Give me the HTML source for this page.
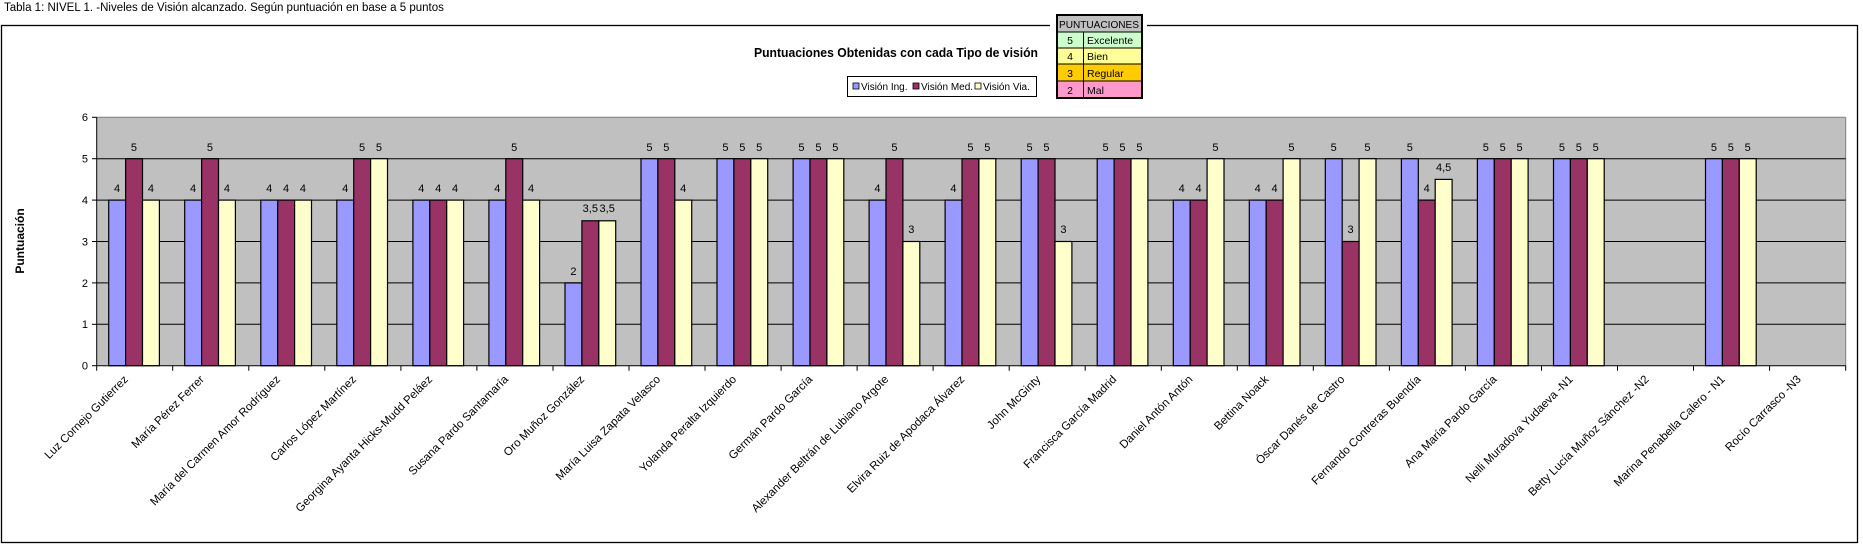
<!DOCTYPE html>
<html><head><meta charset="utf-8"><style>
html,body{margin:0;padding:0;background:#fff;}
svg{display:block;font-family:"Liberation Sans",sans-serif;}
</style></head><body>
<svg width="1863" height="546" viewBox="0 0 1863 546" xmlns="http://www.w3.org/2000/svg">
<text x="4" y="11" font-size="11.5" fill="#000">Tabla 1: NIVEL 1. -Niveles de Visión alcanzado. Según puntuación en base a 5 puntos</text>
<rect x="1.5" y="25.5" width="1856" height="517" fill="#fff" stroke="#000" stroke-width="1.3"/>
<text x="754" y="57" font-size="13" font-weight="bold" textLength="284" lengthAdjust="spacingAndGlyphs">Puntuaciones Obtenidas con cada Tipo de visión</text>
<!-- legend -->
<rect x="847.5" y="76.5" width="189" height="20" fill="#fff" stroke="#000"/>
<rect x="853" y="83" width="6" height="6" fill="#9999ff" stroke="#000" stroke-width="0.8"/>
<text x="861" y="90" font-size="10">Visión Ing.</text>
<rect x="913" y="83" width="6" height="6" fill="#993366" stroke="#000" stroke-width="0.8"/>
<text x="921" y="90" font-size="10">Visión Med.</text>
<rect x="975" y="83" width="6" height="6" fill="#ffffcc" stroke="#000" stroke-width="0.8"/>
<text x="983" y="90" font-size="10">Visión Via.</text>
<!-- puntuaciones table -->
<rect x="1050" y="14" width="97" height="88" fill="#fff"/>
<rect x="1057" y="15" width="85" height="17" fill="#c0c0c0"/>
<rect x="1057" y="32" width="85" height="16" fill="#ccffcc"/>
<rect x="1057" y="48" width="85" height="16" fill="#ffff99"/>
<rect x="1057" y="64" width="85" height="17" fill="#ffcc00"/>
<rect x="1057" y="81" width="85" height="17" fill="#ff99cc"/>
<g stroke="#000" stroke-width="1">
<line x1="1057" y1="32" x2="1142" y2="32"/><line x1="1057" y1="48" x2="1142" y2="48"/>
<line x1="1057" y1="64" x2="1142" y2="64"/><line x1="1057" y1="81" x2="1142" y2="81"/>
<line x1="1083.5" y1="32" x2="1083.5" y2="98"/>
</g>
<rect x="1057" y="15" width="85" height="83" fill="none" stroke="#000" stroke-width="2"/>
<g font-size="10.5">
<text x="1059" y="28" textLength="80" lengthAdjust="spacingAndGlyphs">PUNTUACIONES</text>
<text x="1070" y="44" text-anchor="middle">5</text><text x="1087" y="44">Excelente</text>
<text x="1070" y="60" text-anchor="middle">4</text><text x="1087" y="60">Bien</text>
<text x="1070" y="77" text-anchor="middle">3</text><text x="1087" y="77">Regular</text>
<text x="1070" y="94" text-anchor="middle">2</text><text x="1087" y="94">Mal</text>
</g>
<!-- plot -->
<rect x="96.7" y="117.3" width="1749" height="248.4" fill="#c0c0c0"/>
<line x1="96.7" y1="117.3" x2="1845.7" y2="117.3" stroke="#808080"/>
<line x1="1845.7" y1="117.3" x2="1845.7" y2="365.7" stroke="#808080"/>
<g stroke="#000" stroke-width="1">
<line x1="96.7" y1="158.7" x2="1845.7" y2="158.7"/>
<line x1="96.7" y1="200.1" x2="1845.7" y2="200.1"/>
<line x1="96.7" y1="241.5" x2="1845.7" y2="241.5"/>
<line x1="96.7" y1="282.9" x2="1845.7" y2="282.9"/>
<line x1="96.7" y1="324.3" x2="1845.7" y2="324.3"/>
</g>
<g font-size="11" text-anchor="end">
<text x="88" y="121">6</text><text x="88" y="162.5">5</text><text x="88" y="204">4</text>
<text x="88" y="245.5">3</text><text x="88" y="287">2</text><text x="88" y="328">1</text><text x="88" y="369.5">0</text>
</g>
<text transform="translate(24,241) rotate(-90)" font-size="12" font-weight="bold" text-anchor="middle">Puntuación</text>

<g stroke="#000" stroke-width="1.2" font-size="11" text-anchor="middle">
<g transform="translate(96.7,0)"><rect x="12" y="200.1" width="16.9" height="165.6" fill="#9999ff"/><rect x="28.9" y="158.7" width="16.9" height="207" fill="#993366"/><rect x="45.8" y="200.1" width="16.9" height="165.6" fill="#ffffcc"/><g stroke="none"><text x="20.4" y="192">4</text><text x="37.3" y="151">5</text><text x="54.2" y="192">4</text></g></g>
<g transform="translate(172.7,0)"><rect x="12" y="200.1" width="16.9" height="165.6" fill="#9999ff"/><rect x="28.9" y="158.7" width="16.9" height="207" fill="#993366"/><rect x="45.8" y="200.1" width="16.9" height="165.6" fill="#ffffcc"/><g stroke="none"><text x="20.4" y="192">4</text><text x="37.3" y="151">5</text><text x="54.2" y="192">4</text></g></g>
<g transform="translate(248.8,0)"><rect x="12" y="200.1" width="16.9" height="165.6" fill="#9999ff"/><rect x="28.9" y="200.1" width="16.9" height="165.6" fill="#993366"/><rect x="45.8" y="200.1" width="16.9" height="165.6" fill="#ffffcc"/><g stroke="none"><text x="20.4" y="192">4</text><text x="37.3" y="192">4</text><text x="54.2" y="192">4</text></g></g>
<g transform="translate(324.8,0)"><rect x="12" y="200.1" width="16.9" height="165.6" fill="#9999ff"/><rect x="28.9" y="158.7" width="16.9" height="207" fill="#993366"/><rect x="45.8" y="158.7" width="16.9" height="207" fill="#ffffcc"/><g stroke="none"><text x="20.4" y="192">4</text><text x="37.3" y="151">5</text><text x="54.2" y="151">5</text></g></g>
<g transform="translate(400.9,0)"><rect x="12" y="200.1" width="16.9" height="165.6" fill="#9999ff"/><rect x="28.9" y="200.1" width="16.9" height="165.6" fill="#993366"/><rect x="45.8" y="200.1" width="16.9" height="165.6" fill="#ffffcc"/><g stroke="none"><text x="20.4" y="192">4</text><text x="37.3" y="192">4</text><text x="54.2" y="192">4</text></g></g>
<g transform="translate(476.9,0)"><rect x="12" y="200.1" width="16.9" height="165.6" fill="#9999ff"/><rect x="28.9" y="158.7" width="16.9" height="207" fill="#993366"/><rect x="45.8" y="200.1" width="16.9" height="165.6" fill="#ffffcc"/><g stroke="none"><text x="20.4" y="192">4</text><text x="37.3" y="151">5</text><text x="54.2" y="192">4</text></g></g>
<g transform="translate(553.0,0)"><rect x="12" y="282.9" width="16.9" height="82.8" fill="#9999ff"/><rect x="28.9" y="220.8" width="16.9" height="144.9" fill="#993366"/><rect x="45.8" y="220.8" width="16.9" height="144.9" fill="#ffffcc"/><g stroke="none"><text x="20.4" y="275">2</text><text x="37.3" y="212">3,5</text><text x="54.2" y="212">3,5</text></g></g>
<g transform="translate(629.0,0)"><rect x="12" y="158.7" width="16.9" height="207" fill="#9999ff"/><rect x="28.9" y="158.7" width="16.9" height="207" fill="#993366"/><rect x="45.8" y="200.1" width="16.9" height="165.6" fill="#ffffcc"/><g stroke="none"><text x="20.4" y="151">5</text><text x="37.3" y="151">5</text><text x="54.2" y="192">4</text></g></g>
<g transform="translate(705.0,0)"><rect x="12" y="158.7" width="16.9" height="207" fill="#9999ff"/><rect x="28.9" y="158.7" width="16.9" height="207" fill="#993366"/><rect x="45.8" y="158.7" width="16.9" height="207" fill="#ffffcc"/><g stroke="none"><text x="20.4" y="151">5</text><text x="37.3" y="151">5</text><text x="54.2" y="151">5</text></g></g>
<g transform="translate(781.1,0)"><rect x="12" y="158.7" width="16.9" height="207" fill="#9999ff"/><rect x="28.9" y="158.7" width="16.9" height="207" fill="#993366"/><rect x="45.8" y="158.7" width="16.9" height="207" fill="#ffffcc"/><g stroke="none"><text x="20.4" y="151">5</text><text x="37.3" y="151">5</text><text x="54.2" y="151">5</text></g></g>
<g transform="translate(857.1,0)"><rect x="12" y="200.1" width="16.9" height="165.6" fill="#9999ff"/><rect x="28.9" y="158.7" width="16.9" height="207" fill="#993366"/><rect x="45.8" y="241.5" width="16.9" height="124.2" fill="#ffffcc"/><g stroke="none"><text x="20.4" y="192">4</text><text x="37.3" y="151">5</text><text x="54.2" y="233">3</text></g></g>
<g transform="translate(933.1,0)"><rect x="12" y="200.1" width="16.9" height="165.6" fill="#9999ff"/><rect x="28.9" y="158.7" width="16.9" height="207" fill="#993366"/><rect x="45.8" y="158.7" width="16.9" height="207" fill="#ffffcc"/><g stroke="none"><text x="20.4" y="192">4</text><text x="37.3" y="151">5</text><text x="54.2" y="151">5</text></g></g>
<g transform="translate(1009.2,0)"><rect x="12" y="158.7" width="16.9" height="207" fill="#9999ff"/><rect x="28.9" y="158.7" width="16.9" height="207" fill="#993366"/><rect x="45.8" y="241.5" width="16.9" height="124.2" fill="#ffffcc"/><g stroke="none"><text x="20.4" y="151">5</text><text x="37.3" y="151">5</text><text x="54.2" y="233">3</text></g></g>
<g transform="translate(1085.2,0)"><rect x="12" y="158.7" width="16.9" height="207" fill="#9999ff"/><rect x="28.9" y="158.7" width="16.9" height="207" fill="#993366"/><rect x="45.8" y="158.7" width="16.9" height="207" fill="#ffffcc"/><g stroke="none"><text x="20.4" y="151">5</text><text x="37.3" y="151">5</text><text x="54.2" y="151">5</text></g></g>
<g transform="translate(1161.3,0)"><rect x="12" y="200.1" width="16.9" height="165.6" fill="#9999ff"/><rect x="28.9" y="200.1" width="16.9" height="165.6" fill="#993366"/><rect x="45.8" y="158.7" width="16.9" height="207" fill="#ffffcc"/><g stroke="none"><text x="20.4" y="192">4</text><text x="37.3" y="192">4</text><text x="54.2" y="151">5</text></g></g>
<g transform="translate(1237.3,0)"><rect x="12" y="200.1" width="16.9" height="165.6" fill="#9999ff"/><rect x="28.9" y="200.1" width="16.9" height="165.6" fill="#993366"/><rect x="45.8" y="158.7" width="16.9" height="207" fill="#ffffcc"/><g stroke="none"><text x="20.4" y="192">4</text><text x="37.3" y="192">4</text><text x="54.2" y="151">5</text></g></g>
<g transform="translate(1313.3,0)"><rect x="12" y="158.7" width="16.9" height="207" fill="#9999ff"/><rect x="28.9" y="241.5" width="16.9" height="124.2" fill="#993366"/><rect x="45.8" y="158.7" width="16.9" height="207" fill="#ffffcc"/><g stroke="none"><text x="20.4" y="151">5</text><text x="37.3" y="233">3</text><text x="54.2" y="151">5</text></g></g>
<g transform="translate(1389.4,0)"><rect x="12" y="158.7" width="16.9" height="207" fill="#9999ff"/><rect x="28.9" y="200.1" width="16.9" height="165.6" fill="#993366"/><rect x="45.8" y="179.4" width="16.9" height="186.3" fill="#ffffcc"/><g stroke="none"><text x="20.4" y="151">5</text><text x="37.3" y="192">4</text><text x="54.2" y="171">4,5</text></g></g>
<g transform="translate(1465.4,0)"><rect x="12" y="158.7" width="16.9" height="207" fill="#9999ff"/><rect x="28.9" y="158.7" width="16.9" height="207" fill="#993366"/><rect x="45.8" y="158.7" width="16.9" height="207" fill="#ffffcc"/><g stroke="none"><text x="20.4" y="151">5</text><text x="37.3" y="151">5</text><text x="54.2" y="151">5</text></g></g>
<g transform="translate(1541.5,0)"><rect x="12" y="158.7" width="16.9" height="207" fill="#9999ff"/><rect x="28.9" y="158.7" width="16.9" height="207" fill="#993366"/><rect x="45.8" y="158.7" width="16.9" height="207" fill="#ffffcc"/><g stroke="none"><text x="20.4" y="151">5</text><text x="37.3" y="151">5</text><text x="54.2" y="151">5</text></g></g>
<g transform="translate(1693.5,0)"><rect x="12" y="158.7" width="16.9" height="207" fill="#9999ff"/><rect x="28.9" y="158.7" width="16.9" height="207" fill="#993366"/><rect x="45.8" y="158.7" width="16.9" height="207" fill="#ffffcc"/><g stroke="none"><text x="20.4" y="151">5</text><text x="37.3" y="151">5</text><text x="54.2" y="151">5</text></g></g>
</g>

<!-- axes -->
<g stroke="#000" stroke-width="1">
<line x1="96.7" y1="117.3" x2="96.7" y2="365.7"/>
<line x1="96.7" y1="365.7" x2="1845.7" y2="365.7"/>
<line x1="92" y1="117.3" x2="96.7" y2="117.3"/><line x1="92" y1="158.7" x2="96.7" y2="158.7"/>
<line x1="92" y1="200.1" x2="96.7" y2="200.1"/><line x1="92" y1="241.5" x2="96.7" y2="241.5"/>
<line x1="92" y1="282.9" x2="96.7" y2="282.9"/><line x1="92" y1="324.3" x2="96.7" y2="324.3"/>
<line x1="92" y1="365.7" x2="96.7" y2="365.7"/>
<path d="M96.7 365.7v5M172.7 365.7v5M248.8 365.7v5M324.8 365.7v5M400.9 365.7v5M476.9 365.7v5M553 365.7v5M629 365.7v5M705 365.7v5M781.1 365.7v5M857.1 365.7v5M933.1 365.7v5M1009.2 365.7v5M1085.2 365.7v5M1161.3 365.7v5M1237.3 365.7v5M1313.3 365.7v5M1389.4 365.7v5M1465.4 365.7v5M1541.5 365.7v5M1617.5 365.7v5M1693.5 365.7v5M1769.6 365.7v5M1845.7 365.7v5"/>
</g>

<g font-size="11.5" text-anchor="end">
<text transform="translate(128.7,380) rotate(-45)">Luz Cornejo Gutierrez</text>
<text transform="translate(204.7,380) rotate(-45)">María Pérez Ferrer</text>
<text transform="translate(280.8,380) rotate(-45)">María del Carmen Amor Rodríguez</text>
<text transform="translate(356.8,380) rotate(-45)">Carlos López Martínez</text>
<text transform="translate(432.9,380) rotate(-45)">Georgina Ayanta Hicks-Mudd Peláez</text>
<text transform="translate(508.9,380) rotate(-45)">Susana Pardo Santamaría</text>
<text transform="translate(585,380) rotate(-45)">Oro Muñoz González</text>
<text transform="translate(661,380) rotate(-45)">María Luisa Zapata Velasco</text>
<text transform="translate(737,380) rotate(-45)">Yolanda Peralta Izquierdo</text>
<text transform="translate(813.1,380) rotate(-45)">Germán Pardo García</text>
<text transform="translate(889.1,380) rotate(-45)">Alexander Beltrán de Lubiano Argote</text>
<text transform="translate(965.1,380) rotate(-45)">Elvira Ruiz de Apodaca Álvarez</text>
<text transform="translate(1041.2,380) rotate(-45)">John McGinty</text>
<text transform="translate(1117.2,380) rotate(-45)">Francisca García Madrid</text>
<text transform="translate(1193.3,380) rotate(-45)">Daniel Antón Antón</text>
<text transform="translate(1269.3,380) rotate(-45)">Bettina Noack</text>
<text transform="translate(1345.3,380) rotate(-45)">Óscar Danés de Castro</text>
<text transform="translate(1421.4,380) rotate(-45)">Fernando Contreras Buendía</text>
<text transform="translate(1497.4,380) rotate(-45)">Ana María Pardo García</text>
<text transform="translate(1573.5,380) rotate(-45)">Nelli Muradova Yudaeva -N1</text>
<text transform="translate(1649.5,380) rotate(-45)">Betty Lucía Muñoz Sánchez  -N2</text>
<text transform="translate(1725.5,380) rotate(-45)">Marina Penabella Calero  - N1</text>
<text transform="translate(1801.6,380) rotate(-45)">Rocío Carrasco  -N3</text>
</g>
</svg>
</body></html>
